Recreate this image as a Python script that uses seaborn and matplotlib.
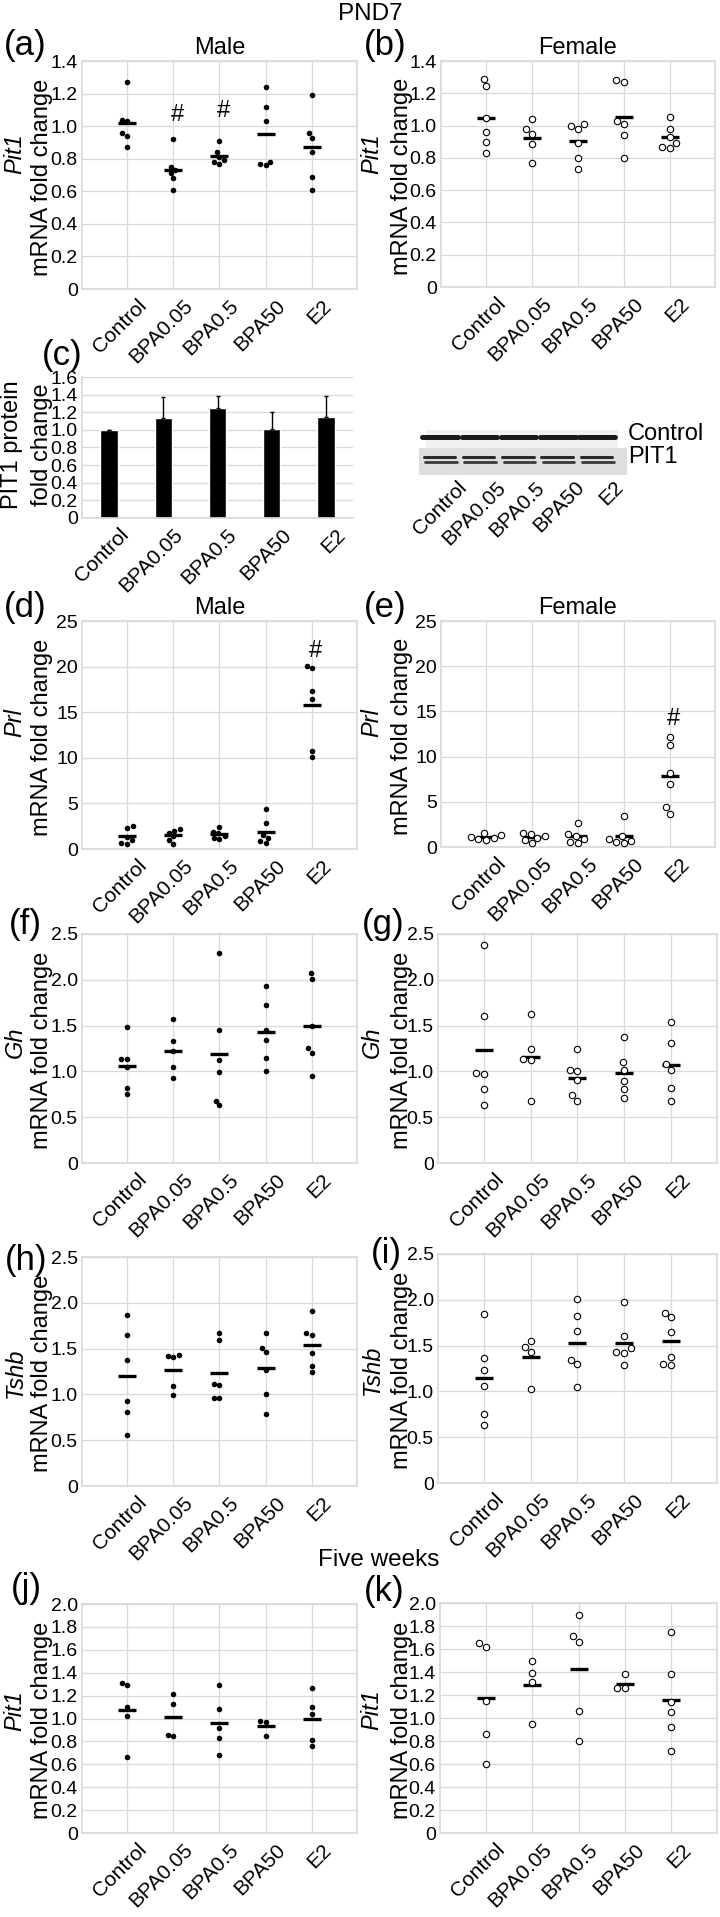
import numpy as np
import pandas as pd
import matplotlib
matplotlib.use("Agg")
import matplotlib.pyplot as plt
import seaborn as sns
from matplotlib.patches import Rectangle
from matplotlib.ticker import FuncFormatter

groups = ["Control", "BPA0.05", "BPA0.5", "BPA50", "E2"]

# PND7 Pit1 mRNA
pit1_male = [[1.27, 1.04, 1.03, 0.96, 0.94, 0.87],
             [0.92, 0.75, 0.73, 0.71, 0.68, 0.61],
             [0.91, 0.84, 0.81, 0.79, 0.78, 0.77],
             [1.24, 1.12, 1.03, 0.78, 0.77, 0.76],
             [1.19, 0.96, 0.93, 0.84, 0.69, 0.61]]
pit1_female = [[1.29, 1.245, 1.045, 0.96, 0.90, 0.83],
               [1.04, 0.98, 0.95, 0.885, 0.77],
               [1.01, 1.00, 0.98, 0.89, 0.80, 0.73],
               [1.28, 1.27, 1.03, 1.01, 0.94, 0.80],
               [1.05, 0.98, 0.93, 0.89, 0.87, 0.86]]

# PND7 PIT1 protein (western blot quantification)
pit1_protein = [1.00, 1.13, 1.25, 1.01, 1.15]
pit1_protein_sd = [0.0, 0.24, 0.13, 0.19, 0.24]

# PND7 Prl mRNA
prl_male = [[2.5, 2.3, 1.3, 0.95, 0.7, 0.6],
            [2.2, 2.0, 1.8, 1.4, 1.0, 0.6],
            [2.4, 1.9, 1.7, 1.4, 1.25, 1.1],
            [4.36, 2.9, 1.5, 1.2, 0.88, 0.66],
            [20.1, 19.8, 17.3, 16.4, 10.8, 10.1]]
prl_female = [[1.6, 1.3, 1.1, 1.0, 0.9, 0.8],
              [1.6, 1.4, 1.2, 1.0, 0.8, 0.4],
              [2.65, 1.4, 1.2, 0.9, 0.6, 0.4],
              [3.46, 1.2, 0.9, 0.7, 0.6, 0.4],
              [12.2, 11.3, 8.2, 7.0, 4.4, 3.7]]

# PND7 Gh mRNA
gh_male = [[1.49, 1.14, 1.13, 1.05, 0.82, 0.75],
           [1.57, 1.33, 1.22, 1.05, 0.93],
           [2.29, 1.45, 1.12, 0.99, 0.68, 0.63],
           [1.93, 1.73, 1.45, 1.34, 1.15, 1.00],
           [2.07, 2.01, 1.50, 1.25, 1.20, 0.95]]
gh_female = [[2.38, 1.61, 0.98, 0.97, 0.81, 0.63],
             [1.63, 1.24, 1.13, 1.12, 0.68],
             [1.24, 1.02, 1.00, 0.91, 0.74, 0.68],
             [1.38, 1.10, 1.02, 0.90, 0.81, 0.71],
             [1.54, 1.31, 1.08, 1.02, 0.82, 0.68]]

# PND7 Tshb mRNA
tshb_male = [[1.87, 1.65, 1.38, 0.93, 0.81, 0.56],
             [1.43, 1.42, 1.41, 1.09, 0.99],
             [1.67, 1.59, 1.11, 1.10, 0.96, 0.96],
             [1.67, 1.51, 1.46, 1.27, 1.00, 0.79],
             [1.91, 1.67, 1.65, 1.45, 1.31, 1.24]]
tshb_female = [[1.84, 1.37, 1.23, 1.06, 0.75, 0.63],
               [1.55, 1.49, 1.43, 1.03],
               [2.01, 1.82, 1.66, 1.34, 1.30, 1.05],
               [1.98, 1.60, 1.47, 1.43, 1.42, 1.29],
               [1.86, 1.81, 1.65, 1.38, 1.30, 1.29]]

# Five weeks Pit1 mRNA
pit1_male_5w = [[1.31, 1.29, 1.10, 1.02, 0.66],
                [1.21, 1.13, 0.86, 0.85],
                [1.29, 1.08, 0.92, 0.83, 0.68],
                [0.98, 0.97, 0.85],
                [1.27, 1.10, 1.04, 0.81, 0.76]]
pit1_female_5w = [[1.65, 1.62, 1.15, 0.86, 0.60],
                  [1.50, 1.39, 1.31, 0.95],
                  [1.90, 1.71, 1.66, 1.06, 0.80],
                  [1.38, 1.26, 1.26],
                  [1.75, 1.38, 1.14, 1.05, 0.92, 0.71]]

W, H = 720, 1917

sns.set_theme(style="whitegrid", rc={
    "grid.color": "#d9d9d9", "axes.edgecolor": "#d9d9d9", "grid.linewidth": 0.9,
    "text.color": "black", "axes.labelcolor": "black",
    "xtick.color": "black", "ytick.color": "black",
})
plt.rcParams["font.family"] = ["Liberation Sans", "DejaVu Sans"]

fig = plt.figure(figsize=(W / 100, H / 100), dpi=100)


def add_ax(x0, y0, x1, y1):
    return fig.add_axes([x0 / W, 1 - y1 / H, (x1 - x0) / W, (y1 - y0) / H])


def ftext(x, y, s, **kw):
    kw.setdefault("ha", "center")
    kw.setdefault("va", "center")
    fig.text(x / W, 1 - y / H, s, **kw)


def fmt_tick(v, pos):
    if abs(v) < 1e-9:
        return "0"
    if float(v).is_integer() and v >= 5:
        return f"{int(v)}"
    return f"{v:.1f}"


def cat_labels(ax, labels, dx=7, dy=-5, size=15):
    for i, lab in enumerate(labels):
        ax.annotate(lab, xy=(i, 0), xycoords=("data", "axes fraction"),
                    xytext=(dx, dy), textcoords="offset points",
                    rotation=45, ha="right", va="top", rotation_mode="anchor",
                    fontsize=size)


def style_y(ax, top, step):
    ax.set_ylim(0, top)
    ax.set_yticks(np.arange(0, top + step / 2, step))
    ax.yaxis.set_major_formatter(FuncFormatter(fmt_tick))
    ax.tick_params(axis="y", labelsize=14, pad=3, length=0)
    ax.tick_params(axis="x", length=0, labelbottom=False)
    ax.set_xlabel("")
    ax.set_ylabel("")


def scatter_panel(values, filled, box, top, step):
    ax = add_ax(*box)
    df = pd.DataFrame({
        "group": np.repeat(groups, [len(v) for v in values]),
        "value": np.concatenate(values),
    })
    if filled:
        sns.swarmplot(data=df, x="group", y="value", order=groups,
                      color="black", size=4, ax=ax)
    else:
        sns.swarmplot(data=df, x="group", y="value", order=groups,
                      color="white", edgecolor="black", linewidth=0.8,
                      size=4.6, ax=ax)
    sns.pointplot(data=df, x="group", y="value", order=groups,
                  errorbar=None, color="black", markers="_", linestyles="none",
                  markersize=13, markeredgewidth=2.4, ax=ax)
    ax.set_xlim(-0.98, 4.98)
    ax.set_xticks(range(len(groups)))
    ax.xaxis.grid(True)
    ax.yaxis.grid(True)
    style_y(ax, top, step)
    cat_labels(ax, groups)
    return ax


# letter, data, filled, box, ylim top, step, gene, gene y, title, '#' marks
panels = [
    ("a", pit1_male, True, (82, 61, 357, 289), 1.4, 0.2, "Pit1", 154, "Male", [(1, 1.07), (2, 1.09)]),
    ("b", pit1_female, False, (441, 61, 715, 287), 1.4, 0.2, "Pit1", 154, "Female", []),
    ("d", prl_male, True, (82, 621, 357, 849), 25, 5, "Prl", 723, "Male", [(4, 21.7)]),
    ("e", prl_female, False, (441, 621, 715, 847), 25, 5, "Prl", 723, "Female", [(4, 14.2)]),
    ("f", gh_male, True, (82, 934, 357, 1163), 2.5, 0.5, "Gh", 1042, None, []),
    ("g", gh_female, False, (438, 934, 717, 1163), 2.5, 0.5, "Gh", 1042, None, []),
    ("h", tshb_male, True, (82, 1257, 357, 1486), 2.5, 0.5, "Tshb", 1373, None, []),
    ("i", tshb_female, False, (438, 1254, 717, 1483), 2.5, 0.5, "Tshb", 1370, None, []),
    ("j", pit1_male_5w, True, (82, 1604, 357, 1833), 2.0, 0.2, "Pit1", 1711, None, []),
    ("k", pit1_female_5w, False, (440, 1603, 717, 1833), 2.0, 0.2, "Pit1", 1710, None, []),
]
letter_pos = {"a": (25, 45), "b": (385, 45), "c": (62, 355), "d": (25, 607),
              "e": (385, 607), "f": (25, 924), "g": (383, 924), "h": (26, 1260),
              "i": (386, 1253), "j": (26, 1588), "k": (384, 1592)}

for letter, vals, filled, box, top, step, gene, gene_y, title, marks in panels:
    ax = scatter_panel(vals, filled, box, top, step)
    x0, y0, x1, y1 = box
    left = x0 < 360
    ftext(15 if left else 372, gene_y, gene, rotation=90, style="italic", fontsize=17)
    ftext(42 if left else 402, (y0 + y1) / 2 + 2, "mRNA fold change", rotation=90, fontsize=17)
    if title:
        ftext((x0 + x1) / 2, y0 - 13, title, fontsize=17)
    for gi, yv in marks:
        ax.text(gi + 0.08, yv, "#", ha="center", va="center", fontsize=17)

# (c) PIT1 protein bar chart
axc = add_ax(82, 377, 353, 518)
sns.barplot(x=groups, y=pit1_protein, color="black", width=0.32,
            saturation=1, ax=axc)
axc.errorbar(range(len(groups)), pit1_protein,
             yerr=[np.zeros(len(groups)), pit1_protein_sd],
             fmt="none", ecolor="black", elinewidth=1, capsize=1.5, capthick=1)
axc.set_xlim(-0.5, 4.5)
axc.xaxis.grid(False)
axc.spines["right"].set_visible(False)
axc.spines["top"].set_visible(False)
style_y(axc, 1.6, 0.2)
cat_labels(axc, groups)
ftext(12, 445, "PIT1 protein", rotation=90, fontsize=17)
ftext(42, 445, "fold change", rotation=90, fontsize=17)

# western blot picture stand-in
axb = add_ax(419, 430, 627, 475)
axb.set_xlim(-0.535, 4.76)
axb.set_ylim(0, 1)
axb.axis("off")
axb.add_patch(Rectangle((-0.36, 0.6), 4.9, 0.4, color="#f1f1f1", lw=0))
axb.add_patch(Rectangle((-0.535, 0.0), 5.3, 0.6, color="#dedede", lw=0))
for i in range(len(groups)):
    axb.plot([i - 0.45, i + 0.45], [0.84, 0.84], color="#1a1a1a", lw=3.6,
             solid_capstyle="round")
    axb.plot([i - 0.42, i + 0.38], [0.40, 0.40], color="#2a2a2a", lw=2.2,
             solid_capstyle="round")
    axb.plot([i - 0.38, i + 0.42], [0.28, 0.28], color="#3a3a3a", lw=2.0,
             solid_capstyle="round")
cat_labels(axb, groups, dx=12, dy=-2)
ftext(628, 434, "Control", ha="left", fontsize=17)
ftext(628, 457, "PIT1", ha="left", fontsize=17)

for k, (x, y) in letter_pos.items():
    ftext(x, y, f"({k})", fontsize=25)

ftext(370, 14, "PND7", fontsize=17.5)
ftext(379, 1560, "Five weeks", fontsize=17.5)

fig.savefig("out.png", dpi=100)
